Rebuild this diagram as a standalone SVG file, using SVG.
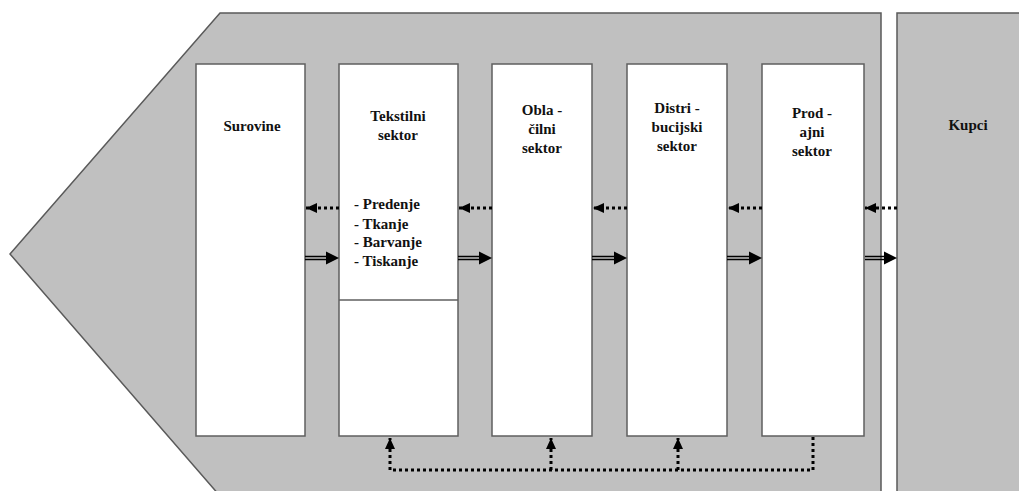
<svg xmlns="http://www.w3.org/2000/svg" width="1019" height="491" viewBox="0 0 1019 491">
<style>
.bg{fill:#c0c0c0;stroke:#5a5a5a;stroke-width:1.5}
.box{fill:#ffffff;stroke:#5f5f5f;stroke-width:1.5}
text{font-family:'Liberation Serif',serif;font-weight:bold;font-size:15px;fill:#111}
.c{text-anchor:middle}
.dot{fill:none;stroke:#000;stroke-width:3;stroke-dasharray:3 3}
.dbl{fill:none;stroke:#000;stroke-width:1.3}
</style>
<defs>
<marker id="hd" markerUnits="userSpaceOnUse" markerWidth="12" markerHeight="12" refX="11" refY="6" orient="auto">
<path d="M0,1 L11,6 L0,11 Z" fill="#000"/>
</marker>
</defs>
<g id="background">
<polygon class="bg" points="220,13 881,13 881,496 220,496 10,254"/>
</g>
<g id="kupci">
<rect class="bg" x="897" y="13" width="130" height="490"/>
<text class="c" x="968" y="130">Kupci</text>
</g>
<g id="surovine">
<rect class="box" x="196" y="64" width="109" height="372"/>
<text class="c" x="252" y="131">Surovine</text>
</g>
<g id="tekstilni">
<rect class="box" x="339" y="64" width="119" height="372"/>
<line x1="339" y1="300" x2="458" y2="300" stroke="#5f5f5f" stroke-width="1.5"/>
<text class="c" x="398" y="121">Tekstilni</text>
<text class="c" x="398" y="140">sektor</text>
<text x="354" y="209">- Predenje</text>
<text x="354" y="229">- Tkanje</text>
<text x="354" y="247">- Barvanje</text>
<text x="354" y="266">- Tiskanje</text>
</g>
<g id="oblacilni">
<rect class="box" x="492" y="64" width="100" height="372"/>
<text class="c" x="542" y="115">Obla -</text>
<text class="c" x="542" y="134">čilni</text>
<text class="c" x="542" y="153">sektor</text>
</g>
<g id="distribucijski">
<rect class="box" x="627" y="64" width="100" height="372"/>
<text class="c" x="677" y="113">Distri -</text>
<text class="c" x="677" y="132">bucijski</text>
<text class="c" x="677" y="151">sektor</text>
</g>
<g id="prodajni">
<rect class="box" x="762" y="64" width="102" height="372"/>
<text class="c" x="812" y="118">Prod -</text>
<text class="c" x="812" y="137">ajni</text>
<text class="c" x="812" y="156">sektor</text>
</g>
<g id="connectors">
<path class="dot" d="M339,208 H306" marker-end="url(#hd)"/>
<path class="dot" d="M492,208 H459" marker-end="url(#hd)"/>
<path class="dot" d="M627,208 H593" marker-end="url(#hd)"/>
<path class="dot" d="M762,208 H728" marker-end="url(#hd)"/>
<path class="dot" d="M897,208 H865" marker-end="url(#hd)"/>
<g class="dbl">
<path d="M305,256.5 H328 M305,259.5 H328"/>
<path d="M458,256.5 H481 M458,259.5 H481"/>
<path d="M592,256.5 H616 M592,259.5 H616"/>
<path d="M727,256.5 H751 M727,259.5 H751"/>
<path d="M865,256.5 H886 M865,259.5 H886"/>
</g>
<g fill="#000">
<polygon points="326,251.5 339,258 326,264.5"/>
<polygon points="479,251.5 492,258 479,264.5"/>
<polygon points="614,251.5 627,258 614,264.5"/>
<polygon points="749,251.5 762,258 749,264.5"/>
<polygon points="884,251.5 897,258 884,264.5"/>
</g>
<path class="dot" d="M813,437 V470 H390 V438" marker-end="url(#hd)"/>
<path class="dot" d="M551,470 V438" marker-end="url(#hd)"/>
<path class="dot" d="M678,470 V438" marker-end="url(#hd)"/>
</g>
</svg>
